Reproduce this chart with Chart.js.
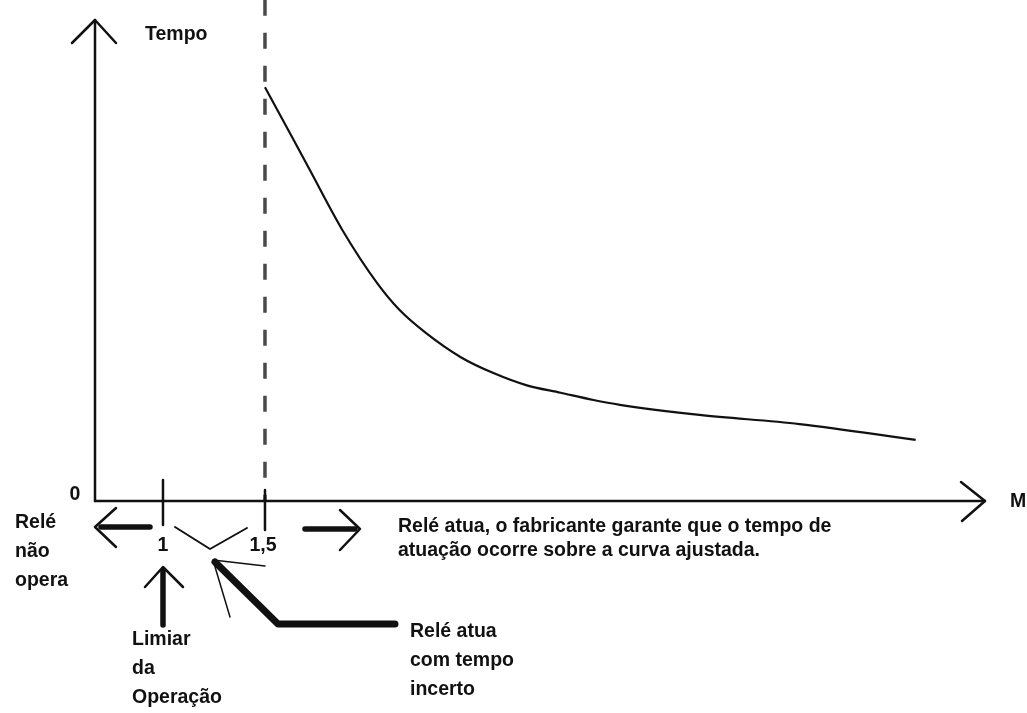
<!DOCTYPE html>
<html>
<head>
<meta charset="utf-8">
<script src="https://cdn.jsdelivr.net/npm/chart.js@4/dist/chart.umd.min.js"></script>
<style>
  body { margin: 0; background: #fff; }
</style>
</head>
<body>
<canvas id="curva" width="1027" height="713"></canvas>
<script>
// multiplo da corrente de ajuste (M) x tempo de atuacao
let multiplos = [1.5, 1.64, 1.72, 1.88, 2.05, 2.16, 2.29, 2.46, 2.62, 2.78, 2.95, 3.11, 3.24, 3.63, 4.12, 4.69];
let tempos = [8.6, 7.51, 6.88, 5.63, 4.53, 3.97, 3.49, 2.99, 2.66, 2.41, 2.25, 2.10, 2.00, 1.79, 1.60, 1.27];
let marcasX = [1, 1.5];
let rotulosX = ['1', '1,5'];
let limiteTopo = 10.42;

let fonte = 'bold 19.5px "Liberation Sans", Arial, sans-serif';

function linha(ctx, pts, largura) {
    ctx.beginPath();
    ctx.lineWidth = largura;
    ctx.moveTo(pts[0][0], pts[0][1]);
    for (let i = 1; i < pts.length; i++) ctx.lineTo(pts[i][0], pts[i][1]);
    ctx.stroke();
}

function texto(ctx, linhas, x, y, passo, align) {
    ctx.textAlign = align || 'left';
    linhas.forEach((t, i) => ctx.fillText(t, x, y + i * passo));
}

let anotacoes = {
    id: 'anotacoes',
    afterDraw(chart) {
        let ctx = chart.ctx;
        let sx = chart.scales.x, sy = chart.scales.y;
        let esq = chart.chartArea.left, dir = chart.chartArea.right;
        let topo = chart.chartArea.top, base = sy.getPixelForValue(0);
        let x1 = sx.getPixelForValue(marcasX[0]);
        let x15 = sx.getPixelForValue(marcasX[1]);

        ctx.save();
        ctx.strokeStyle = '#111';
        ctx.fillStyle = '#111';
        ctx.lineCap = 'round';
        ctx.lineJoin = 'round';

        // eixos com setas
        linha(ctx, [[esq, base], [esq, topo]], 2.5);
        linha(ctx, [[esq - 23, topo + 23], [esq, topo], [esq + 21, topo + 23]], 2.5);
        linha(ctx, [[esq, base], [dir, base]], 2.5);
        linha(ctx, [[dir - 24, base - 19], [dir, base], [dir - 23, base + 20]], 2.5);

        // marcas em 1 e 1,5
        linha(ctx, [[x1, base - 21], [x1, base + 24]], 2.5);
        linha(ctx, [[x15, base - 11], [x15, base + 29]], 2.5);

        ctx.font = fonte;
        ctx.textBaseline = 'middle';
        ctx.textAlign = 'center';
        ctx.fillText(rotulosX[0], x1, base + 45);
        ctx.fillText(rotulosX[1], x15 - 2, base + 45);
        ctx.fillText('0', esq - 20, base - 6);
        ctx.textAlign = 'left';
        ctx.fillText('Tempo', esq + 50, topo + 15);
        ctx.fillText('M', dir + 25, base + 1);

        // seta para a esquerda: rele nao opera
        linha(ctx, [[esq + 6, base + 26], [x1 - 13, base + 26]], 5.5);
        linha(ctx, [[esq + 21, base + 7], [esq, base + 26], [esq + 21, base + 46]], 2.5);
        texto(ctx, ['Relé', 'não', 'opera'], 15, base + 22, 29);

        // faixa incerta entre 1 e 1,5
        linha(ctx, [[x1 + 12, base + 26], [x1 + 47, base + 48], [x15 - 18, base + 27]], 2);

        // seta para a direita: rele atua
        linha(ctx, [[x15 + 40, base + 28], [x15 + 90, base + 28]], 5.5);
        linha(ctx, [[x15 + 75, base + 9], [x15 + 95, base + 28], [x15 + 75, base + 49]], 2.5);
        texto(ctx, ['Relé atua, o fabricante garante que o tempo de',
                    'atuação ocorre sobre a curva ajustada.'], 398, base + 26, 24);

        // limiar da operacao
        linha(ctx, [[x1, base + 70], [x1, base + 124]], 5.5);
        linha(ctx, [[x1 - 18, base + 86], [x1, base + 66], [x1 + 20, base + 86]], 2.5);
        texto(ctx, ['Limiar', 'da', 'Operação'], x1 - 31, base + 139, 29);

        // indicador: rele atua com tempo incerto
        linha(ctx, [[x1 + 52, base + 61], [x1 + 115, base + 123], [x1 + 232, base + 123]], 7);
        linha(ctx, [[x1 + 102, base + 65], [x1 + 50, base + 59], [x1 + 67, base + 116]], 1.5);
        texto(ctx, ['Relé atua', 'com tempo', 'incerto'], 410, base + 131, 29);

        ctx.restore();
    }
};

let ctx = document.getElementById('curva').getContext('2d');

let myChart = new Chart(ctx, {
    type: 'line',
    data: {
        datasets: [{
            data: multiplos.map((m, i) => ({ x: m, y: tempos[i] })),
            borderColor: '#111',
            borderWidth: 2.2,
            pointRadius: 0,
            cubicInterpolationMode: 'monotone',
        }, {
            data: [{ x: marcasX[1], y: limiteTopo }, { x: marcasX[1], y: 0 }],
            borderColor: '#4a4a4a',
            borderWidth: 3.5,
            borderDash: [16, 17],
            pointRadius: 0,
            clip: false,
        }],
    },
    plugins: [anotacoes],
    options: {
        responsive: false,
        animation: false,
        layout: { padding: { left: 95, top: 20, right: 42, bottom: 212 } },
        scales: {
            x: { type: 'linear', display: false, min: 2 / 3, max: 5.03 },
            y: { display: false, min: 0, max: 10 },
        },
        plugins: {
            legend: { display: false },
            tooltip: { enabled: false },
        },
    }
});
</script>
</body>
</html>
